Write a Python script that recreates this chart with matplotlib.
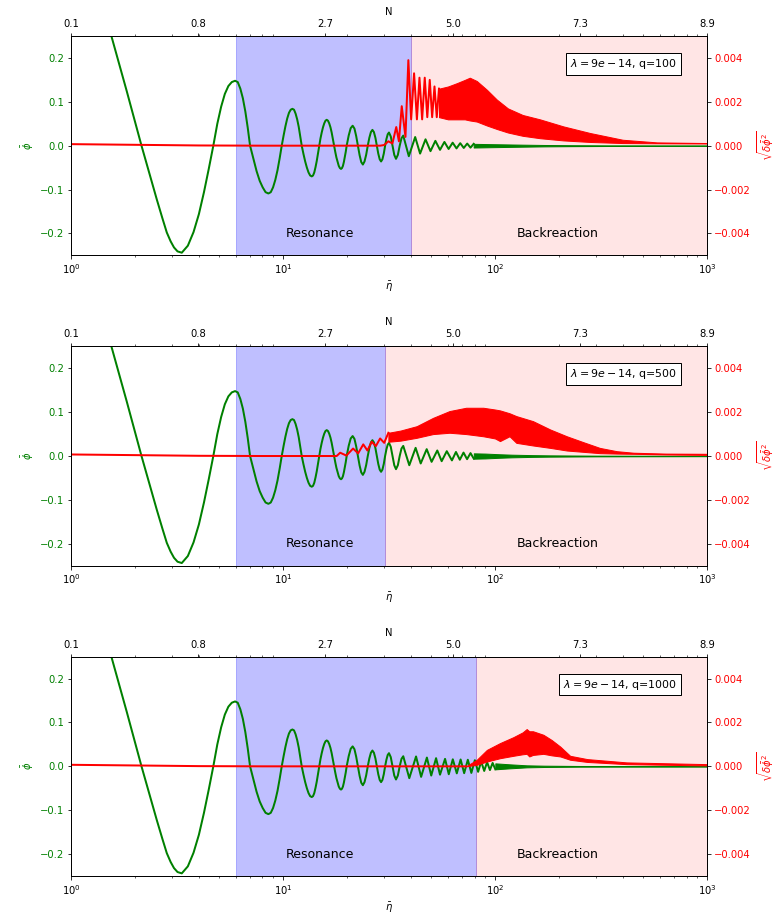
import matplotlib
matplotlib.use("Agg")
import matplotlib.pyplot as plt

Q_VALUES = [100, 500, 1000]
RES_START = 6.0
RES_END = [40.2, 30.3, 81.4]

N_TICK_ETA = [1.0, 3.98, 15.85, 63.1, 251.2, 1000.0]
N_TICK_LABELS = ["0.1", "0.8", "2.7", "5.0", "7.3", "8.9"]

# background field, identical in all three runs up to eta ~ 37
phi_eta_early = [1.55, 1.83, 2.15, 2.54, 2.70, 2.83, 2.95, 3.06, 3.18, 3.33,
                 3.557, 3.783, 4.010, 4.237, 4.463, 4.69,
                 4.898, 5.107, 5.315, 5.523, 5.732, 5.94,
                 6.115, 6.29, 6.465, 6.64, 6.815, 6.99,
                 7.247, 7.503, 7.76, 8.017, 8.273, 8.53,
                 8.752, 8.973, 9.195, 9.417, 9.638, 9.86,
                 10.06, 10.26, 10.465, 10.667, 10.868, 11.07,
                 11.267, 11.463, 11.66, 11.857, 12.053, 12.25,
                 12.485, 12.72, 12.955, 13.19, 13.425, 13.66,
                 13.85, 14.04, 14.23, 14.42, 14.61, 14.8,
                 15.01, 15.22, 15.435, 15.647, 15.858, 16.07,
                 16.29, 16.51, 16.735, 16.957, 17.18, 17.4,
                 17.63, 17.857, 18.085, 18.313, 18.54, 18.77,
                 18.97, 19.167, 19.365, 19.563, 19.76, 19.96,
                 20.41, 20.85, 21.3, 21.72, 22.13, 22.55, 22.97, 23.38, 23.8,
                 24.23, 24.67, 25.1, 25.53, 25.97, 26.4, 26.83, 27.27, 27.7, 28.13, 28.57,
                 29.0, 29.43, 29.87, 30.3, 30.73, 31.17, 31.6, 32.22, 32.85, 33.47, 34.1,
                 34.8, 35.5, 36.2, 36.9]
phi_early = [0.250, 0.125, 0.0, -0.123, -0.166, -0.198, -0.218, -0.232, -0.241, -0.244,
             -0.228, -0.197, -0.156, -0.106, -0.053, 0.0,
             0.050, 0.089, 0.118, 0.136, 0.145, 0.148,
             0.145, 0.130, 0.108, 0.078, 0.041, 0.0,
             -0.030, -0.058, -0.080, -0.095, -0.106, -0.109,
             -0.106, -0.095, -0.078, -0.056, -0.029, 0.0,
             0.023, 0.044, 0.062, 0.075, 0.082, 0.084,
             0.082, 0.073, 0.060, 0.043, 0.022, 0.0,
             -0.019, -0.036, -0.050, -0.061, -0.068, -0.070,
             -0.068, -0.061, -0.049, -0.035, -0.018, 0.0,
             0.016, 0.030, 0.042, 0.051, 0.057, 0.059,
             0.057, 0.051, 0.042, 0.030, 0.015, 0.0,
             -0.014, -0.027, -0.037, -0.046, -0.051, -0.053,
             -0.051, -0.046, -0.037, -0.026, -0.014, 0.0,
             0.0235, 0.040, 0.0455, 0.039, 0.022, 0.0, -0.0217, -0.0373, -0.043,
             -0.036, -0.0205, 0.0, 0.018, 0.031, 0.036, 0.031, 0.018, 0.0, -0.018, -0.031,
             -0.036, -0.031, -0.018, 0.0, 0.015, 0.026, 0.030, 0.021, 0.0, -0.021, -0.030,
             -0.021, 0.0, 0.017, 0.023]

# q = 100
phi_eta_q100 = [39.2, 42.0, 44.3, 47.0, 49.6, 52.3, 55.0, 57.7, 60.4, 63.1, 65.8, 68.5, 71.2,
                73.9, 76.6, 79.3]
phi_q100 = [-0.024, 0.0197, -0.018, 0.0145, -0.0125, 0.011, -0.0095, 0.0085, -0.0075, 0.0068,
            -0.0062, 0.0057, -0.0052, 0.0048, -0.0045, 0.0042]
phi_env_eta_q100 = [79.3, 95, 110, 135, 170, 230, 350, 600, 1000]
phi_env_q100 = [0.0042, 0.0035, 0.003, 0.0023, 0.0016, 0.0011, 0.0007, 0.0005, 0.0004]
dphi_eta_q100 = [1, 2, 4, 8, 28.7, 30.0, 31.4, 32.8, 34.2, 35.2, 36.3, 37.8, 39.0, 40.2, 41.5,
                 42.8, 44.0, 45.3, 46.6, 47.9, 49.2, 50.5, 51.8, 53.1, 54.4]
dphi_q100 = [0.00007, 0.00004, 0.00001, 0.0, 0.0, 0.00003, 0.0002, 0.0001, 0.00085, 0.0002,
             0.0018, 0.0004, 0.0039, 0.0012, 0.0033, 0.0012, 0.0031, 0.0012, 0.0031, 0.0013,
             0.0030, 0.0013, 0.0027, 0.0013, 0.0026]
dphi_band_eta_q100 = [54.4, 60, 66, 72, 76, 82, 91.5, 102, 115, 135, 163, 210, 280, 400, 580, 1000]
dphi_hi_q100 = [0.0026, 0.0027, 0.00285, 0.0030, 0.0031, 0.00295, 0.00255, 0.0021, 0.0017,
                0.0014, 0.0012, 0.00088, 0.00058, 0.00027, 0.00015, 0.00012]
dphi_lo_q100 = [0.0013, 0.0012, 0.0012, 0.0012, 0.00115, 0.0011, 0.00092, 0.00076, 0.0006,
                0.00045, 0.00034, 0.00024, 0.00017, 0.00012, 0.00011, 0.0001]

# q = 500
phi_eta_q500 = [39.4, 42.2, 44.6, 47.6, 50.2, 53.4, 56.0, 59.2, 62.6, 65.4, 68.2, 71.0, 73.8,
                76.6, 79.4]
phi_q500 = [-0.021, 0.0186, -0.017, 0.0156, -0.0133, 0.0126, -0.0118, 0.011, -0.010, 0.0092,
            -0.0085, 0.0078, -0.0072, 0.0066, -0.0061]
phi_env_eta_q500 = [79.4, 90, 105, 120, 150, 180, 300, 1000]
phi_env_q500 = [0.0061, 0.0055, 0.004, 0.003, 0.002, 0.0015, 0.0008, 0.0004]
dphi_eta_q500 = [1, 2, 4, 8, 17.9, 18.6, 19.9, 21.4, 22.6, 23.9, 25.0, 26.2, 27.4, 28.7, 30.0, 31.4]
dphi_q500 = [0.00007, 0.00004, 0.00001, 0.0, 0.0, 0.00015, 0.00002, 0.00034, 0.00012, 0.00053,
             0.00025, 0.00065, 0.00045, 0.0008, 0.0006, 0.00106]
dphi_band_eta_q500 = [31.4, 35.8, 42.7, 51, 61, 73, 88, 100, 105.5, 117, 126, 151, 182, 218,
                      261, 312, 375, 450, 640, 1000]
dphi_hi_q500 = [0.00106, 0.00116, 0.00136, 0.00174, 0.00205, 0.0022, 0.0022, 0.00212, 0.00208,
                0.00195, 0.00182, 0.00159, 0.00121, 0.0009, 0.00063, 0.00037, 0.00022, 0.00015,
                0.00011, 0.0001]
dphi_lo_q500 = [0.00065, 0.0007, 0.00083, 0.001, 0.00106, 0.001, 0.0009, 0.0008, 0.00068,
                0.0009, 0.0006, 0.00048, 0.00037, 0.00025, 0.00019, 0.00013, 0.00011, 0.0001,
                0.00007, 0.00005]

# q = 1000
phi_eta_q1000 = [39.4, 42.4, 44.8, 47.7, 50.0, 52.7, 55.0, 58.1, 60.5, 63.2, 66.0, 68.8, 71.5,
                 74.4, 77.3, 80.3, 83.2, 86.0, 88.9, 91.7, 94.6, 97.4, 100.3]
phi_q1000 = [-0.027, 0.0225, -0.024, 0.020, -0.021, 0.0186, -0.019, 0.017, -0.018, 0.016,
             -0.016, 0.0156, -0.0156, 0.015, -0.015, 0.014, -0.0125, 0.011, -0.0105, 0.0095,
             -0.0085, 0.0077, -0.0068]
phi_env_eta_q1000 = [100.3, 117, 141, 170, 250, 1000]
phi_env_q1000 = [0.0068, 0.0046, 0.0023, 0.0015, 0.0008, 0.0004]
dphi_eta_q1000 = [1, 2, 4, 8, 73]
dphi_q1000 = [0.00007, 0.00004, 0.00001, 0.0, 0.0]
dphi_band_eta_q1000 = [73, 82, 91.5, 105.5, 122, 135, 141, 145, 151, 169, 185, 203, 226, 272,
                       417, 1000]
dphi_hi_q1000 = [0.0, 0.0003, 0.00075, 0.00106, 0.00133, 0.00155, 0.0017, 0.0016, 0.0016,
                 0.00144, 0.0012, 0.0009, 0.00048, 0.00033, 0.00018, 0.0001]
dphi_lo_q1000 = [0.0, 0.00007, 0.00022, 0.00037, 0.00048, 0.00055, 0.00057, 0.00045, 0.00052,
                 0.00057, 0.0005, 0.00045, 0.0003, 0.0002, 0.0001, 0.00004]


def draw_panel(ax, q, res_end, phi_eta, phi, env_eta, env, d_eta, d_val, band_eta, lo, hi):
    ax.set_xscale("log")
    ax.set_xlim(1, 1000)
    ax.set_ylim(-0.25, 0.25)
    ax.axvspan(RES_START, res_end, color="b", alpha=0.25)
    ax.axvspan(res_end, 1000, color="r", alpha=0.1)

    ax.plot(phi_eta_early + phi_eta, phi_early + phi, color="green", lw=2)
    ax.fill_between(env_eta, [-a for a in env], env, color="green", lw=1)
    ax.text(14.9, -0.2, "Resonance", ha="center", va="center", fontsize=12.5)
    ax.text(198, -0.2, "Backreaction", ha="center", va="center", fontsize=12.5)
    ax.set_xlabel(r"$\bar{\eta}$")
    ax.set_ylabel(r"$\bar{\phi}$", color="green")
    ax.tick_params(axis="y", labelcolor="green")

    ax2 = ax.twinx()
    ax2.set_ylim(-0.005, 0.005)
    ax2.plot(d_eta, d_val, color="red", lw=2)
    ax2.fill_between(band_eta, lo, hi, color="red", lw=1)
    ax2.set_ylabel(r"$\sqrt{\delta\bar{\phi}^2}$", color="red")
    ax2.tick_params(axis="y", labelcolor="red")
    ax2.text(0.953, 0.905, r"$\lambda=9e-14$, q=%d" % q, transform=ax2.transAxes,
             ha="right", va="top", fontsize=11,
             bbox=dict(facecolor="white", edgecolor="black"))

    ax3 = ax.twiny()
    ax3.set_xscale("log")
    ax3.set_xlim(1, 1000)
    ax3.set_xticks(N_TICK_ETA, N_TICK_LABELS)
    ax3.set_xlabel("N")


def main():
    fig, axes = plt.subplots(3, 1, figsize=(777 / 72, 919 / 72), dpi=72)
    fig.subplots_adjust(left=0.0914, right=0.910, top=0.9608, bottom=0.0468, hspace=0.415)

    draw_panel(axes[0], Q_VALUES[0], RES_END[0], phi_eta_q100, phi_q100, phi_env_eta_q100,
               phi_env_q100, dphi_eta_q100, dphi_q100, dphi_band_eta_q100, dphi_lo_q100,
               dphi_hi_q100)
    draw_panel(axes[1], Q_VALUES[1], RES_END[1], phi_eta_q500, phi_q500, phi_env_eta_q500,
               phi_env_q500, dphi_eta_q500, dphi_q500, dphi_band_eta_q500, dphi_lo_q500,
               dphi_hi_q500)
    draw_panel(axes[2], Q_VALUES[2], RES_END[2], phi_eta_q1000, phi_q1000, phi_env_eta_q1000,
               phi_env_q1000, dphi_eta_q1000, dphi_q1000, dphi_band_eta_q1000, dphi_lo_q1000,
               dphi_hi_q1000)

    fig.savefig("out.png", dpi=72)


if __name__ == "__main__":
    main()
